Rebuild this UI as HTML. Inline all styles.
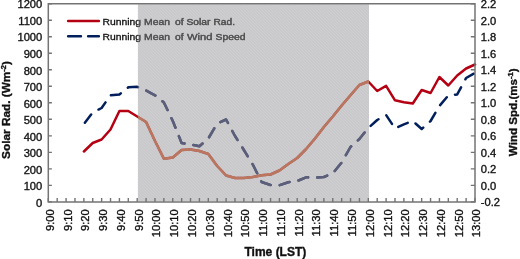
<!DOCTYPE html><html><head><meta charset="utf-8"><style>html,body{margin:0;padding:0;background:#fff;}body{width:520px;height:259px;overflow:hidden;}svg{display:block;filter:blur(0.3px);}text{font-family:"Liberation Sans", sans-serif;stroke:#111;stroke-width:0.35px;}</style></head><body>
<svg width="520" height="259" viewBox="0 0 520 259">
<defs><pattern id="hatch" width="3" height="3" patternUnits="userSpaceOnUse"><rect width="3" height="3" fill="rgb(136,136,140)" fill-opacity="0.45"/><path d="M-1 -1L4 4M-1 2L1 4M2 -1L4 1" stroke="#fff" stroke-opacity="0.10" stroke-width="1"/></pattern><clipPath id="sh"><rect x="137.9" y="4.3" width="231.1" height="196.9"/></clipPath></defs>
<rect width="520" height="259" fill="#fff"/>
<line x1="68.1" y1="21" x2="98.9" y2="21" stroke="#b40012" stroke-width="2.4" stroke-linecap="round"/>
<path d="M68.1 36.2H81M88.1 36.2H98.9" stroke="#001f5c" stroke-width="2.4" stroke-linecap="round"/>
<text transform="translate(102.50,24.8) scale(1,0.9)" font-size="10.8" fill="#111" textLength="38.50" lengthAdjust="spacingAndGlyphs">Running</text>
<text transform="translate(144.00,24.8) scale(1,0.9)" font-size="10.8" fill="#111" textLength="26.00" lengthAdjust="spacingAndGlyphs">Mean</text>
<text transform="translate(175.00,24.8) scale(1,0.9)" font-size="10.8" fill="#111" textLength="8.50" lengthAdjust="spacingAndGlyphs">of</text>
<text transform="translate(186.50,24.8) scale(1,0.9)" font-size="10.8" fill="#111" textLength="24.00" lengthAdjust="spacingAndGlyphs">Solar</text>
<text transform="translate(213.50,24.8) scale(1,0.9)" font-size="10.8" fill="#111" textLength="21.50" lengthAdjust="spacingAndGlyphs">Rad.</text>
<text transform="translate(102.50,39.6) scale(1,0.9)" font-size="10.8" fill="#111" textLength="38.50" lengthAdjust="spacingAndGlyphs">Running</text>
<text transform="translate(144.00,39.6) scale(1,0.9)" font-size="10.8" fill="#111" textLength="26.00" lengthAdjust="spacingAndGlyphs">Mean</text>
<text transform="translate(175.00,39.6) scale(1,0.9)" font-size="10.8" fill="#111" textLength="8.50" lengthAdjust="spacingAndGlyphs">of</text>
<text transform="translate(187.00,39.6) scale(1,0.9)" font-size="10.8" fill="#111" textLength="25.50" lengthAdjust="spacingAndGlyphs">Wind</text>
<text transform="translate(215.50,39.6) scale(1,0.9)" font-size="10.8" fill="#111" textLength="30.00" lengthAdjust="spacingAndGlyphs">Speed</text>
<polyline points="83.9,151.5 92.7,143.0 101.6,139.5 110.5,129.5 119.4,111.0 128.3,111.0 137.2,116.5 146.1,122.0 155.0,141.0 163.9,158.8 172.8,157.5 181.6,150.0 190.5,149.5 199.4,151.0 208.3,154.0 217.2,166.0 226.1,175.5 235.0,178.0 243.9,178.0 252.8,177.0 261.6,175.3 270.5,174.5 279.4,170.5 288.3,164.0 297.2,158.0 306.1,149.0 315.0,138.5 323.9,127.0 332.8,116.5 341.7,105.5 350.5,95.3 359.4,85.0 368.3,81.5 377.2,91.0 386.1,85.8 395.0,100.3 403.9,102.2 412.8,103.5 421.7,90.0 430.6,93.0 439.4,77.0 448.3,85.5 457.2,75.5 466.1,68.5 475.0,64.5" fill="none" stroke="#b40012" stroke-width="2.5" stroke-linejoin="round" stroke-linecap="round"/>
<polyline points="83.9,124.0 92.7,112.5 101.6,108.0 110.5,95.3 119.4,94.5 128.3,87.3 137.2,86.8 146.1,90.5 155.0,95.3 163.9,102.5 172.8,121.0 181.6,143.0 190.5,144.5 199.4,146.3 208.3,138.5 217.2,123.5 226.1,119.5 235.0,136.0 243.9,150.0 252.8,164.5 261.6,182.0 270.5,185.0 279.4,185.3 288.3,182.2 297.2,181.0 306.1,177.3 315.0,177.6 323.9,177.0 332.8,173.4 341.7,162.5 350.5,147.0 359.4,139.0 368.3,128.0 377.2,120.0 386.1,115.0 395.0,128.5 403.9,124.3 412.8,121.0 421.7,129.0 430.6,121.0 439.4,106.0 448.3,95.5 457.2,94.4 466.1,78.0 475.0,73.0" fill="none" stroke="#001f5c" stroke-width="2.5" stroke-linejoin="round" stroke-linecap="round" stroke-dasharray="10.3 9.087" stroke-dashoffset="-1.6"/>
<rect x="137.9" y="4.3" width="231.1" height="196.9" fill="url(#hatch)"/>
<g clip-path="url(#sh)">
<polyline points="83.9,151.5 92.7,143.0 101.6,139.5 110.5,129.5 119.4,111.0 128.3,111.0 137.2,116.5 146.1,122.0 155.0,141.0 163.9,158.8 172.8,157.5 181.6,150.0 190.5,149.5 199.4,151.0 208.3,154.0 217.2,166.0 226.1,175.5 235.0,178.0 243.9,178.0 252.8,177.0 261.6,175.3 270.5,174.5 279.4,170.5 288.3,164.0 297.2,158.0 306.1,149.0 315.0,138.5 323.9,127.0 332.8,116.5 341.7,105.5 350.5,95.3 359.4,85.0 368.3,81.5 377.2,91.0 386.1,85.8 395.0,100.3 403.9,102.2 412.8,103.5 421.7,90.0 430.6,93.0 439.4,77.0 448.3,85.5 457.2,75.5 466.1,68.5 475.0,64.5" fill="none" stroke="#bb765f" stroke-width="2.5" stroke-linejoin="round" stroke-linecap="round"/>
<polyline points="83.9,124.0 92.7,112.5 101.6,108.0 110.5,95.3 119.4,94.5 128.3,87.3 137.2,86.8 146.1,90.5 155.0,95.3 163.9,102.5 172.8,121.0 181.6,143.0 190.5,144.5 199.4,146.3 208.3,138.5 217.2,123.5 226.1,119.5 235.0,136.0 243.9,150.0 252.8,164.5 261.6,182.0 270.5,185.0 279.4,185.3 288.3,182.2 297.2,181.0 306.1,177.3 315.0,177.6 323.9,177.0 332.8,173.4 341.7,162.5 350.5,147.0 359.4,139.0 368.3,128.0 377.2,120.0 386.1,115.0 395.0,128.5 403.9,124.3 412.8,121.0 421.7,129.0 430.6,121.0 439.4,106.0 448.3,95.5 457.2,94.4 466.1,78.0 475.0,73.0" fill="none" stroke="#5c5e7a" stroke-width="2.5" stroke-linejoin="round" stroke-linecap="round" stroke-dasharray="10.3 9.087" stroke-dashoffset="-1.6"/>
<text transform="translate(102.50,24.8) scale(1,0.9)" font-size="10.8" fill="#555" style="stroke:none" textLength="38.50" lengthAdjust="spacingAndGlyphs">Running</text>
<text transform="translate(144.00,24.8) scale(1,0.9)" font-size="10.8" fill="#555" style="stroke:none" textLength="26.00" lengthAdjust="spacingAndGlyphs">Mean</text>
<text transform="translate(175.00,24.8) scale(1,0.9)" font-size="10.8" fill="#555" style="stroke:none" textLength="8.50" lengthAdjust="spacingAndGlyphs">of</text>
<text transform="translate(186.50,24.8) scale(1,0.9)" font-size="10.8" fill="#555" style="stroke:none" textLength="24.00" lengthAdjust="spacingAndGlyphs">Solar</text>
<text transform="translate(213.50,24.8) scale(1,0.9)" font-size="10.8" fill="#555" style="stroke:none" textLength="21.50" lengthAdjust="spacingAndGlyphs">Rad.</text>
<text transform="translate(102.50,39.6) scale(1,0.9)" font-size="10.8" fill="#555" style="stroke:none" textLength="38.50" lengthAdjust="spacingAndGlyphs">Running</text>
<text transform="translate(144.00,39.6) scale(1,0.9)" font-size="10.8" fill="#555" style="stroke:none" textLength="26.00" lengthAdjust="spacingAndGlyphs">Mean</text>
<text transform="translate(175.00,39.6) scale(1,0.9)" font-size="10.8" fill="#555" style="stroke:none" textLength="8.50" lengthAdjust="spacingAndGlyphs">of</text>
<text transform="translate(187.00,39.6) scale(1,0.9)" font-size="10.8" fill="#555" style="stroke:none" textLength="25.50" lengthAdjust="spacingAndGlyphs">Wind</text>
<text transform="translate(215.50,39.6) scale(1,0.9)" font-size="10.8" fill="#555" style="stroke:none" textLength="30.00" lengthAdjust="spacingAndGlyphs">Speed</text>
</g>
<path d="M48.3 201.9 V3.7 H475.0 V201.9 Z" fill="none" stroke="#747474" stroke-width="1.5"/>
<path d="M48.3 201.90h3.6 M475.0 201.90h-4.2 M48.3 185.38h3.6 M475.0 185.38h-4.2 M48.3 168.87h3.6 M475.0 168.87h-4.2 M48.3 152.35h3.6 M475.0 152.35h-4.2 M48.3 135.83h3.6 M475.0 135.83h-4.2 M48.3 119.32h3.6 M475.0 119.32h-4.2 M48.3 102.80h3.6 M475.0 102.80h-4.2 M48.3 86.28h3.6 M475.0 86.28h-4.2 M48.3 69.77h3.6 M475.0 69.77h-4.2 M48.3 53.25h3.6 M475.0 53.25h-4.2 M48.3 36.73h3.6 M475.0 36.73h-4.2 M48.3 20.22h3.6 M475.0 20.22h-4.2 M48.3 3.70h3.6 M475.0 3.70h-4.2 M48.30 201.9v-3.9 M57.19 201.9v-3.9 M66.08 201.9v-3.9 M74.97 201.9v-3.9 M83.86 201.9v-3.9 M92.75 201.9v-3.9 M101.64 201.9v-3.9 M110.53 201.9v-3.9 M119.42 201.9v-3.9 M128.31 201.9v-3.9 M137.20 201.9v-3.9 M146.09 201.9v-3.9 M154.97 201.9v-3.9 M163.86 201.9v-3.9 M172.75 201.9v-3.9 M181.64 201.9v-3.9 M190.53 201.9v-3.9 M199.42 201.9v-3.9 M208.31 201.9v-3.9 M217.20 201.9v-3.9 M226.09 201.9v-3.9 M234.98 201.9v-3.9 M243.87 201.9v-3.9 M252.76 201.9v-3.9 M261.65 201.9v-3.9 M270.54 201.9v-3.9 M279.43 201.9v-3.9 M288.32 201.9v-3.9 M297.21 201.9v-3.9 M306.10 201.9v-3.9 M314.99 201.9v-3.9 M323.88 201.9v-3.9 M332.77 201.9v-3.9 M341.66 201.9v-3.9 M350.55 201.9v-3.9 M359.44 201.9v-3.9 M368.32 201.9v-3.9 M377.21 201.9v-3.9 M386.10 201.9v-3.9 M394.99 201.9v-3.9 M403.88 201.9v-3.9 M412.77 201.9v-3.9 M421.66 201.9v-3.9 M430.55 201.9v-3.9 M439.44 201.9v-3.9 M448.33 201.9v-3.9 M457.22 201.9v-3.9 M466.11 201.9v-3.9 M475.00 201.9v-3.9" stroke="#747474" stroke-width="1.4" fill="none"/>
<text transform="translate(42.3,206.6) scale(1,0.9)" font-size="11.2" text-anchor="end" fill="#111">0</text>
<text transform="translate(42.3,190.1) scale(1,0.9)" font-size="11.2" text-anchor="end" fill="#111">100</text>
<text transform="translate(42.3,173.6) scale(1,0.9)" font-size="11.2" text-anchor="end" fill="#111">200</text>
<text transform="translate(42.3,157.0) scale(1,0.9)" font-size="11.2" text-anchor="end" fill="#111">300</text>
<text transform="translate(42.3,140.5) scale(1,0.9)" font-size="11.2" text-anchor="end" fill="#111">400</text>
<text transform="translate(42.3,124.0) scale(1,0.9)" font-size="11.2" text-anchor="end" fill="#111">500</text>
<text transform="translate(42.3,107.5) scale(1,0.9)" font-size="11.2" text-anchor="end" fill="#111">600</text>
<text transform="translate(42.3,91.0) scale(1,0.9)" font-size="11.2" text-anchor="end" fill="#111">700</text>
<text transform="translate(42.3,74.5) scale(1,0.9)" font-size="11.2" text-anchor="end" fill="#111">800</text>
<text transform="translate(42.3,58.0) scale(1,0.9)" font-size="11.2" text-anchor="end" fill="#111">900</text>
<text transform="translate(42.3,41.4) scale(1,0.9)" font-size="11.2" text-anchor="end" fill="#111">1000</text>
<text transform="translate(42.3,24.9) scale(1,0.9)" font-size="11.2" text-anchor="end" fill="#111">1100</text>
<text transform="translate(42.3,8.4) scale(1,0.9)" font-size="11.2" text-anchor="end" fill="#111">1200</text>
<text transform="translate(480.7,206.3) scale(1,0.9)" font-size="11.2" fill="#111">-0.2</text>
<text transform="translate(480.7,189.8) scale(1,0.9)" font-size="11.2" fill="#111">0.0</text>
<text transform="translate(480.7,173.3) scale(1,0.9)" font-size="11.2" fill="#111">0.2</text>
<text transform="translate(480.7,156.8) scale(1,0.9)" font-size="11.2" fill="#111">0.4</text>
<text transform="translate(480.7,140.2) scale(1,0.9)" font-size="11.2" fill="#111">0.6</text>
<text transform="translate(480.7,123.7) scale(1,0.9)" font-size="11.2" fill="#111">0.8</text>
<text transform="translate(480.7,107.2) scale(1,0.9)" font-size="11.2" fill="#111">1.0</text>
<text transform="translate(480.7,90.7) scale(1,0.9)" font-size="11.2" fill="#111">1.2</text>
<text transform="translate(480.7,74.2) scale(1,0.9)" font-size="11.2" fill="#111">1.4</text>
<text transform="translate(480.7,57.6) scale(1,0.9)" font-size="11.2" fill="#111">1.6</text>
<text transform="translate(480.7,41.1) scale(1,0.9)" font-size="11.2" fill="#111">1.8</text>
<text transform="translate(480.7,24.6) scale(1,0.9)" font-size="11.2" fill="#111">2.0</text>
<text transform="translate(480.7,8.1) scale(1,0.9)" font-size="11.2" fill="#111">2.2</text>
<text transform="translate(53.7,209.3) rotate(-90)" font-size="11.2" text-anchor="end" fill="#111">9:00</text>
<text transform="translate(71.5,209.3) rotate(-90)" font-size="11.2" text-anchor="end" fill="#111">9:10</text>
<text transform="translate(89.3,209.3) rotate(-90)" font-size="11.2" text-anchor="end" fill="#111">9:20</text>
<text transform="translate(107.0,209.3) rotate(-90)" font-size="11.2" text-anchor="end" fill="#111">9:30</text>
<text transform="translate(124.8,209.3) rotate(-90)" font-size="11.2" text-anchor="end" fill="#111">9:40</text>
<text transform="translate(142.6,209.3) rotate(-90)" font-size="11.2" text-anchor="end" fill="#111">9:50</text>
<text transform="translate(160.4,209.3) rotate(-90)" font-size="11.2" text-anchor="end" fill="#111">10:00</text>
<text transform="translate(178.2,209.3) rotate(-90)" font-size="11.2" text-anchor="end" fill="#111">10:10</text>
<text transform="translate(195.9,209.3) rotate(-90)" font-size="11.2" text-anchor="end" fill="#111">10:20</text>
<text transform="translate(213.7,209.3) rotate(-90)" font-size="11.2" text-anchor="end" fill="#111">10:30</text>
<text transform="translate(231.5,209.3) rotate(-90)" font-size="11.2" text-anchor="end" fill="#111">10:40</text>
<text transform="translate(249.3,209.3) rotate(-90)" font-size="11.2" text-anchor="end" fill="#111">10:50</text>
<text transform="translate(267.0,209.3) rotate(-90)" font-size="11.2" text-anchor="end" fill="#111">11:00</text>
<text transform="translate(284.8,209.3) rotate(-90)" font-size="11.2" text-anchor="end" fill="#111">11:10</text>
<text transform="translate(302.6,209.3) rotate(-90)" font-size="11.2" text-anchor="end" fill="#111">11:20</text>
<text transform="translate(320.4,209.3) rotate(-90)" font-size="11.2" text-anchor="end" fill="#111">11:30</text>
<text transform="translate(338.2,209.3) rotate(-90)" font-size="11.2" text-anchor="end" fill="#111">11:40</text>
<text transform="translate(355.9,209.3) rotate(-90)" font-size="11.2" text-anchor="end" fill="#111">11:50</text>
<text transform="translate(373.7,209.3) rotate(-90)" font-size="11.2" text-anchor="end" fill="#111">12:00</text>
<text transform="translate(391.5,209.3) rotate(-90)" font-size="11.2" text-anchor="end" fill="#111">12:10</text>
<text transform="translate(409.3,209.3) rotate(-90)" font-size="11.2" text-anchor="end" fill="#111">12:20</text>
<text transform="translate(427.1,209.3) rotate(-90)" font-size="11.2" text-anchor="end" fill="#111">12:30</text>
<text transform="translate(444.8,209.3) rotate(-90)" font-size="11.2" text-anchor="end" fill="#111">12:40</text>
<text transform="translate(462.6,209.3) rotate(-90)" font-size="11.2" text-anchor="end" fill="#111">12:50</text>
<text transform="translate(480.4,209.3) rotate(-90)" font-size="11.2" text-anchor="end" fill="#111">13:00</text>
<text x="275.4" y="255.8" font-size="12" font-weight="bold" text-anchor="middle" fill="#111">Time (LST)</text>
<text transform="translate(9.9,110) rotate(-90)" font-size="11.8" font-weight="bold" text-anchor="middle" fill="#111">Solar Rad. (Wm<tspan font-size="7.5" dy="-4.2">-2</tspan><tspan dy="4.2">)</tspan></text>
<text transform="translate(517.2,112.3) rotate(-90)" font-size="11.6" font-weight="bold" text-anchor="middle" fill="#111">Wind Spd.(ms<tspan font-size="7.5" dy="-4.2">-1</tspan><tspan dy="4.2">)</tspan></text>
</svg></body></html>
